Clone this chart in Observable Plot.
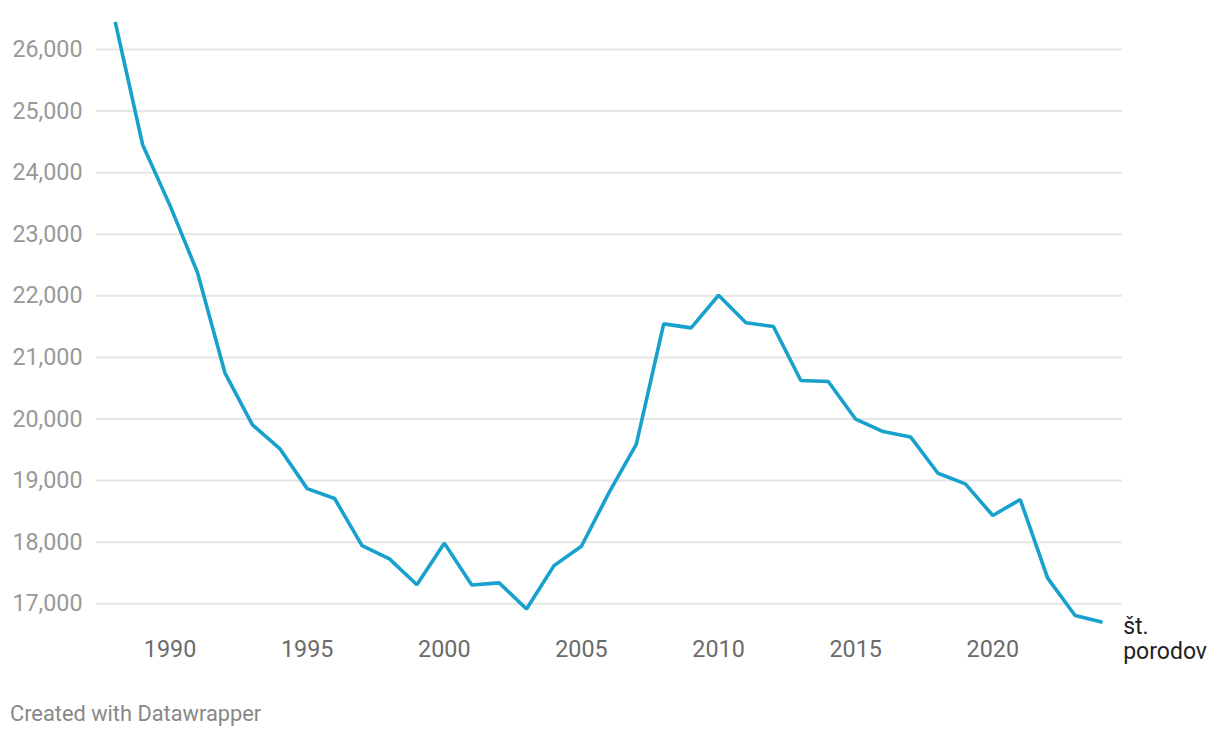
<!DOCTYPE html>
<html>
<head>
<meta charset="utf-8">
<script src="https://cdn.jsdelivr.net/npm/d3@7"></script>
<script src="https://cdn.jsdelivr.net/npm/@observablehq/plot@0.6"></script>
<style>
  body { margin: 0; background: #fff; font-family: Roboto, sans-serif; }
  #chart svg { display: block; }
  .caption { font-family: Roboto, sans-serif; font-size: 21.8px; color: #888; margin: 2px 0 0 10px; line-height: 24px; }
</style>
</head>
<body>
<div id="chart"></div>
<div class="caption">Created with Datawrapper</div>
<script>
const years = [1988,1989,1990,1991,1992,1993,1994,1995,1996,1997,1998,1999,2000,2001,2002,2003,2004,2005,2006,2007,2008,2009,2010,2011,2012,2013,2014,2015,2016,2017,2018,2019,2020,2021,2022,2023,2024];
const births = [26450,24455,23465,22380,20750,19910,19520,18870,18710,17945,17730,17310,17985,17305,17340,16915,17620,17935,18800,19590,21545,21480,22010,21562,21502,20625,20610,19997,19797,19710,19120,18948,18433,18693,17416,16810,16701];
const yTicks = [17000,18000,19000,20000,21000,22000,23000,24000,25000,26000];
const xTicks = [1990,1995,2000,2005,2010,2015,2020];
const labelLines = ["št.", "porodov"];

const data = years.map((y, i) => ({year: y, value: births[i]}));
const fmt = d3.format(",");
const last = data[data.length - 1];

const chart = Plot.plot({
  width: 1220,
  height: 700,
  marginLeft: 96,
  marginRight: 98,
  marginTop: 49,
  marginBottom: 97,
  style: {fontFamily: "Roboto, sans-serif", fontSize: "23px", background: "#fff", overflow: "visible"},
  x: {domain: [1988, 2024], range: [114.7, 1102]},
  y: {domain: [17000, 26000], range: [603.3, 49]},
  marks: [
    Plot.ruleY(yTicks, {stroke: "#e5e5e5", strokeWidth: 2}),
    Plot.axisY({ticks: yTicks, tickSize: 0, tickPadding: 14, tickFormat: fmt, label: null, fill: "#999", fontSize: 23.3}),
    Plot.axisX({ticks: xTicks, tickSize: 0, tickPadding: 37, tickFormat: d => String(d), label: null, fill: "#6b6b6b", fontSize: 23.3}),
    Plot.line(data, {x: "year", y: "value", stroke: "#18a1cd", strokeWidth: 3.6, strokeLinejoin: "miter", strokeLinecap: "butt"}),
    Plot.text([last], {x: "year", y: "value", text: () => labelLines[0], textAnchor: "start", lineAnchor: "middle", dx: 20.7, dy: 4, fill: "#222", fontSize: 23})
,
    Plot.text([last], {x: "year", y: "value", text: () => labelLines[1], textAnchor: "start", lineAnchor: "middle", dx: 20.7, dy: 29, fill: "#222", fontSize: 23})
  ]
});
document.getElementById("chart").appendChild(chart);
</script>
</body>
</html>
